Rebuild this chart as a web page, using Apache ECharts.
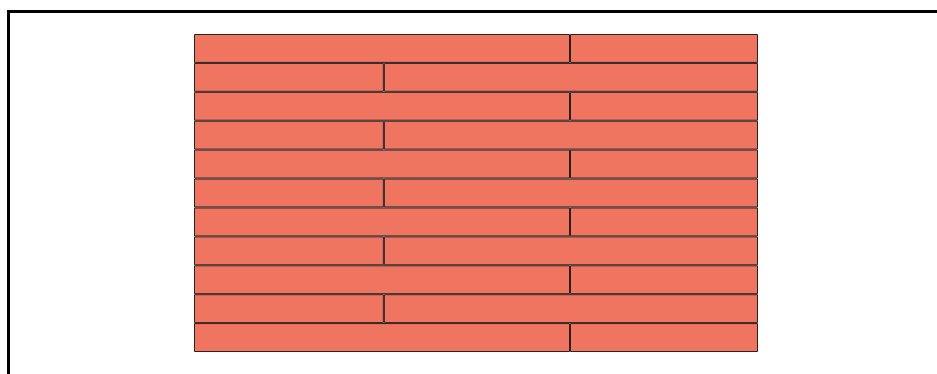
<!DOCTYPE html>
<html>
<head>
<meta charset="utf-8">
<script src="https://cdn.jsdelivr.net/npm/echarts@6/dist/echarts.min.js"></script>
<style>
  html, body { margin: 0; padding: 0; background: #fff; }
  #main { width: 937px; height: 374px; }
</style>
</head>
<body>
<div id="main"></div>
<script>
// 11 rows of bricks, top to bottom
const rows = ['1', '2', '3', '4', '5', '6', '7', '8', '9', '10', '11'];
// first and second brick of each row
const firstBrick = [2, 1.01, 2, 1.01, 2, 1.01, 2, 1.01, 2, 1.01, 2];
const secondBrick = [1, 1.99, 1, 1.99, 1, 1.99, 1, 1.99, 1, 1.99, 1];

const chart = echarts.init(document.getElementById('main'));

const brickStyle = {
  color: '#f07560',
  borderColor: '#2b2220',
  borderWidth: 1,
};

chart.setOption({
  animation: false,
  // outer black frame
  graphic: [
    {
      type: 'rect',
      left: 6,
      top: 9,
      shape: { width: 1000, height: 400 },
      style: { fill: 'none', stroke: '#000', lineWidth: 3 },
    },
  ],
  grid: {
    left: 194,
    right: 179,
    top: 34,
    bottom: 22,
  },
  xAxis: {
    type: 'value',
    min: 0,
    max: 3,
    show: false,
  },
  yAxis: {
    type: 'category',
    data: rows,
    inverse: true,
    show: false,
  },
  series: [
    {
      type: 'bar',
      stack: 'wall',
      data: firstBrick,
      barWidth: '100%',
      itemStyle: brickStyle,
    },
    {
      type: 'bar',
      stack: 'wall',
      data: secondBrick,
      barWidth: '100%',
      itemStyle: brickStyle,
    },
  ],
});
</script>
</body>
</html>
